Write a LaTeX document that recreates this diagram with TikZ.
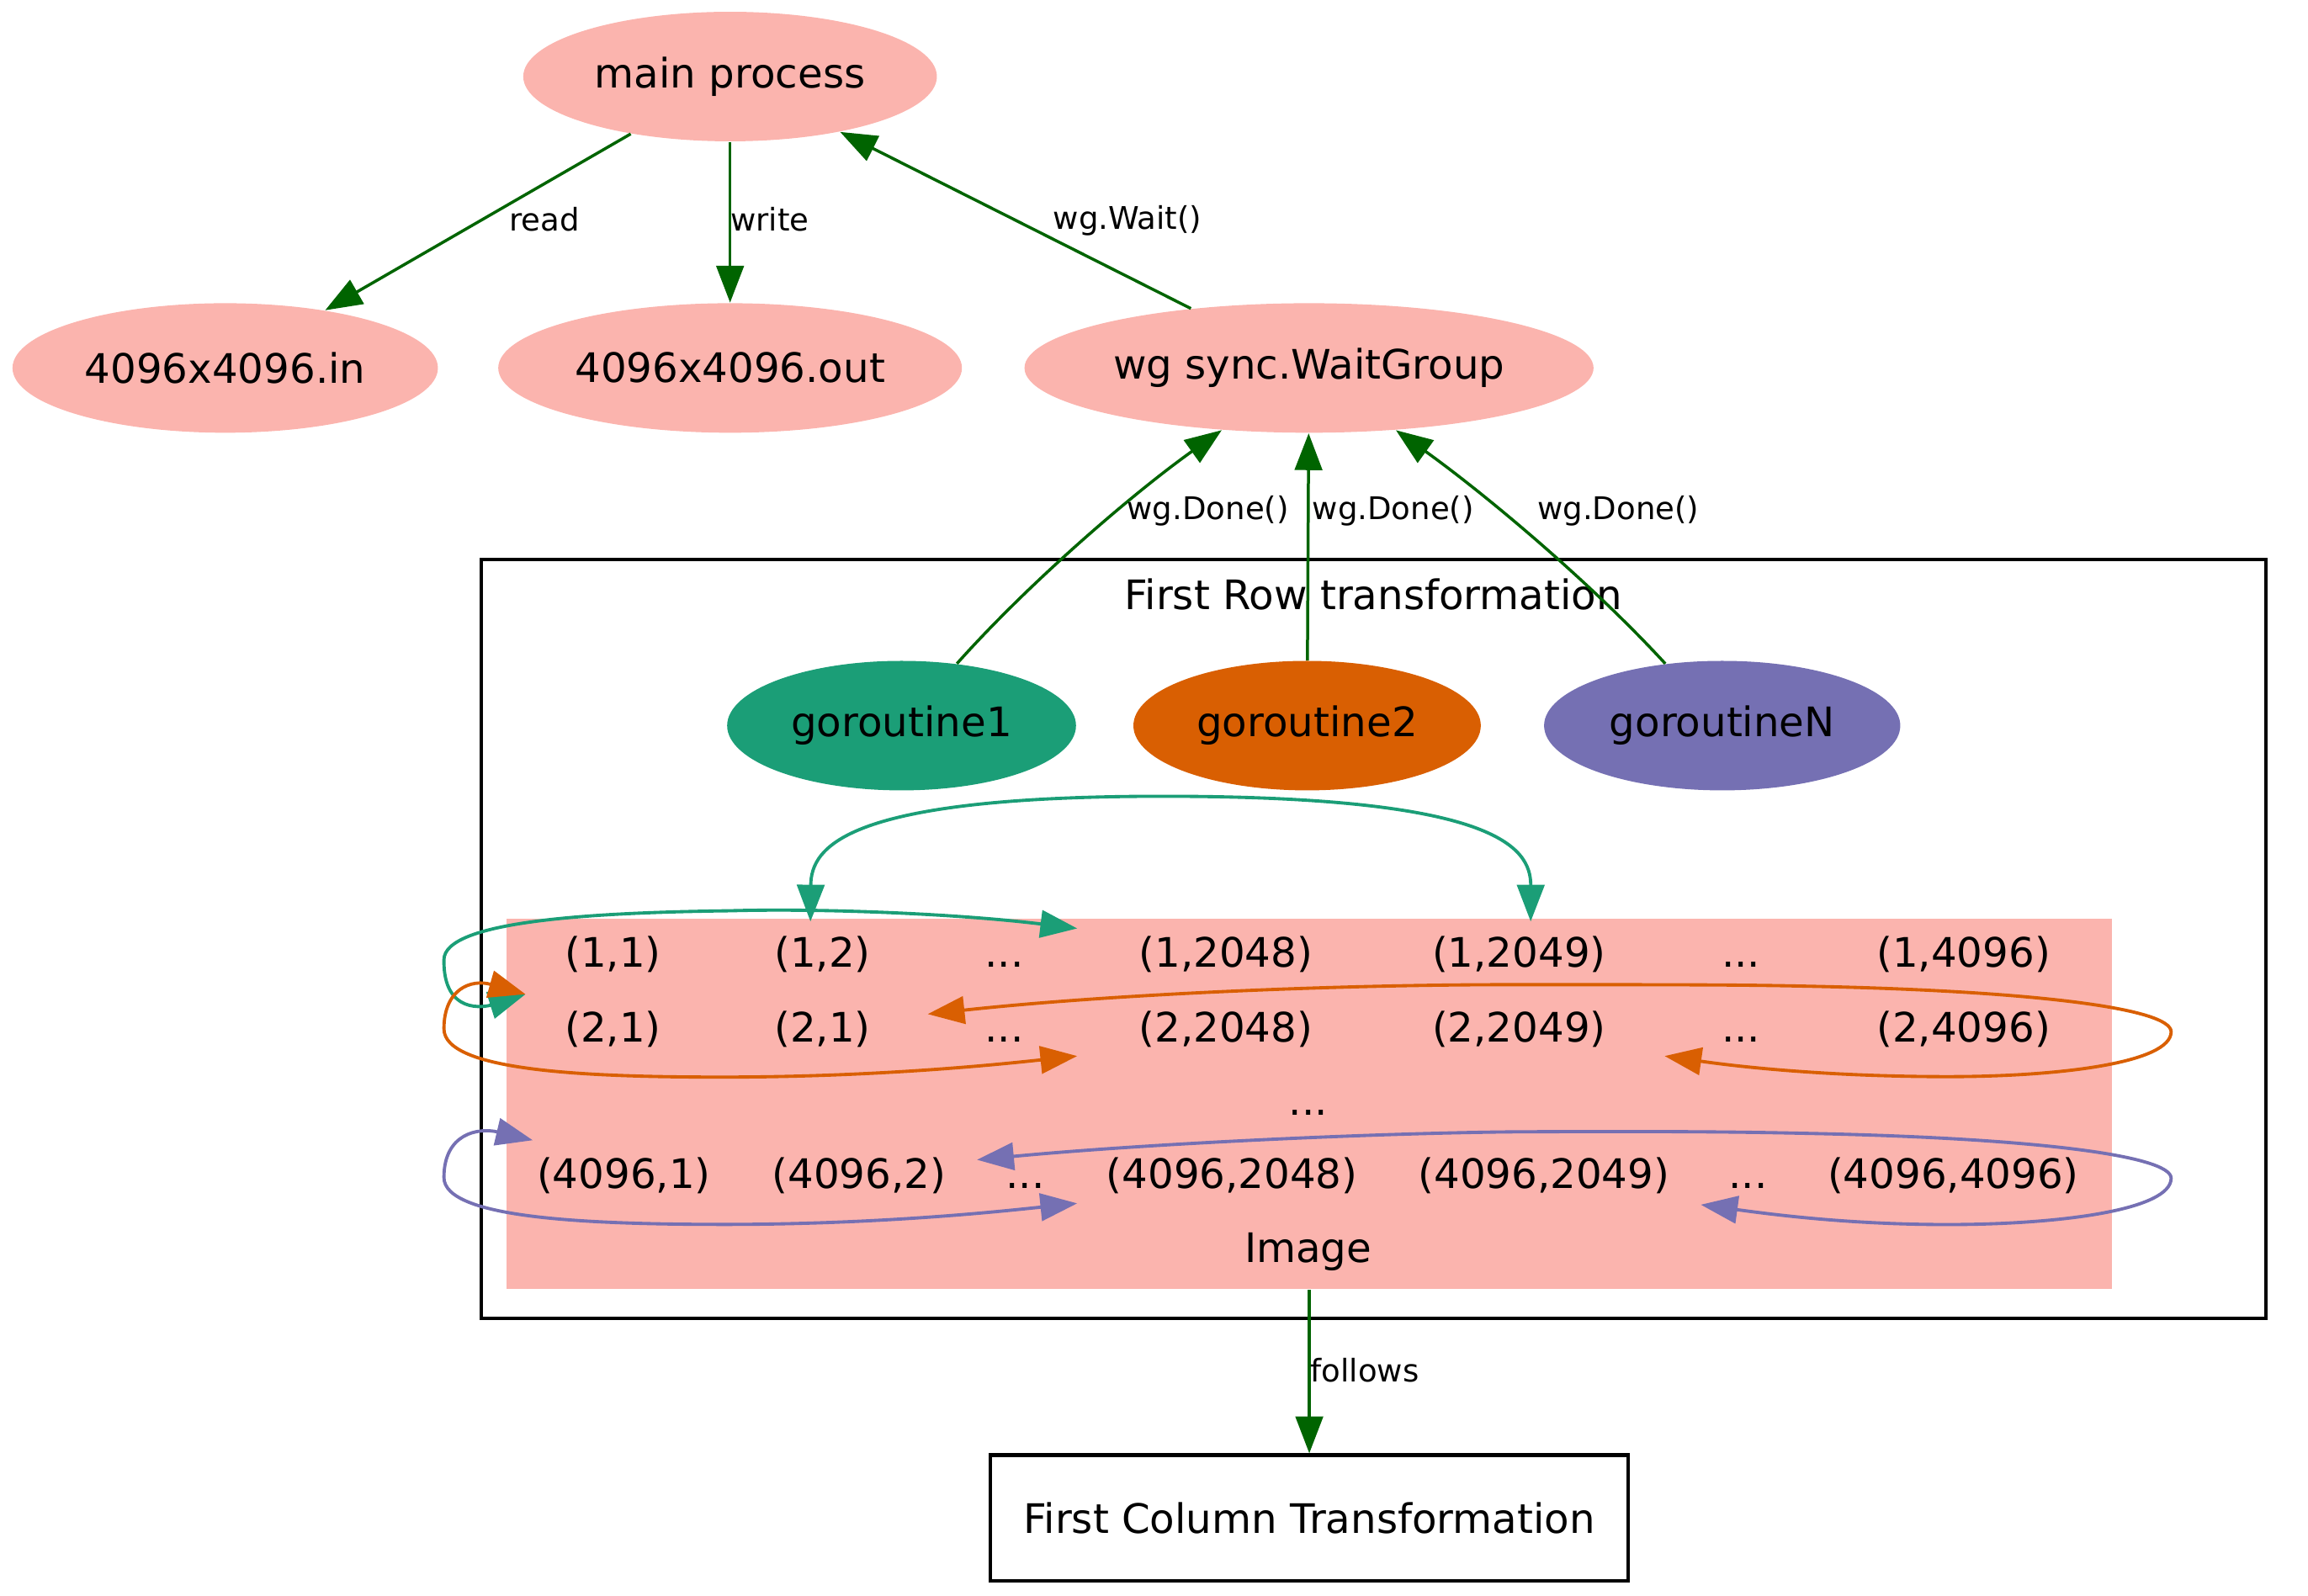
\documentclass[tikz,border=0pt]{standalone}
\usepackage{fontspec}
\setmainfont{DejaVu Sans}
\usetikzlibrary{arrows.meta,shapes.geometric}
\definecolor{pinkfill}{HTML}{FBB4AE}
\definecolor{dkA}{HTML}{1B9E77}
\definecolor{dkB}{HTML}{D95F02}
\definecolor{dkC}{HTML}{7570B3}
\definecolor{dgreen}{HTML}{006400}
\begin{document}
\begin{tikzpicture}[x=0.5pt,y=-0.5pt,
  every node/.style={font=\fontsize{13.8}{16}\selectfont, inner sep=0pt},
  pnode/.style={ellipse, fill=pinkfill, minimum height=44pt},
  gnode/.style={ellipse, minimum height=44pt, minimum width=118.5pt},
  celltxt/.style={text height=10.5pt, text depth=1.8pt},
  lbl/.style={font=\fontsize{10.6}{12}\selectfont},
  gedge/.style={draw=dgreen, line width=1pt, -{Triangle[length=12.5pt,width=9.3pt]}},
  ploop/.style={line width=1.1pt, {Triangle[length=12.5pt,width=9.3pt]}-{Triangle[length=12.5pt,width=9.3pt]}},
  boxline/.style={draw, line width=1.2pt}
]
\useasboundingbox (0,0) rectangle (1568,1084);

% top nodes
\node[pnode, minimum width=140.5pt] (main) at (496,52) {main process};
\node[pnode, minimum width=144.5pt] (fin) at (153,250) {4096x4096.in};
\node[pnode, minimum width=157.5pt] (fout) at (496,250) {4096x4096.out};
\node[pnode, minimum width=193.3pt] (wg) at (889.3,250) {wg sync.WaitGroup};

% cluster
\node[boxline, minimum width=606.25pt, minimum height=257.85pt] (clu) at (933.25,637.85) {};
\node (clulbl) at (933,404) {First Row transformation};

\node[gnode, fill=dkA] (g1) at (612.5,493) {goroutine1};
\node[gnode, fill=dkB, minimum width=118pt] (g2) at (888,493) {goroutine2};
\node[gnode, fill=dkC, minimum width=121pt] (gN) at (1170,493) {goroutineN};

% image table
\node[fill=pinkfill, minimum width=545.5pt, minimum height=126pt] (img) at (889.5,750) {};
\begin{scope}[every node/.append style={celltxt}]
\node (c11) at (416.5,648.5) {(1,1)};
\node (c12) at (558.8,648.5) {(1,2)};
\node (c13) at (682.3,648.5) {...};
\node (c14) at (832.8,648.5) {(1,2048)};
\node (c15) at (1032,648.5) {(1,2049)};
\node (c16) at (1182.8,648.5) {...};
\node (c17) at (1334,648.5) {(1,4096)};
\node (c21) at (416.5,699) {(2,1)};
\node (c22) at (558.8,699) {(2,1)};
\node (c23) at (682.3,699) {...};
\node (c24) at (832.8,699) {(2,2048)};
\node (c25) at (1032,699) {(2,2049)};
\node (c26) at (1182.8,699) {...};
\node (c27) at (1334,699) {(2,4096)};
\node (c31) at (888.7,749) {...};
\node (c41) at (423.8,798.5) {(4096,1)};
\node (c42) at (583.6,798.5) {(4096,2)};
\node (c43) at (696.6,798.5) {...};
\node (c44) at (837,798.5) {(4096,2048)};
\node (c45) at (1048.9,798.5) {(4096,2049)};
\node (c46) at (1187.5,798.5) {...};
\node (c47) at (1327,798.5) {(4096,4096)};
\node (imglbl) at (888.7,849) {Image};
\end{scope}

% bottom box
\node[boxline, minimum width=216.75pt, minimum height=42.7pt] (fct) at (889.5,1031.3) {First Column Transformation};

% green edges
\draw[gedge] (main) -- (fin);
\draw[gedge] (main) -- (fout);
\draw[gedge] (wg) -- (main);
\node[lbl] (lread) at (370,149) {read};
\node[lbl] (lwrite) at (523,149) {write};
\node[lbl] (lwait) at (766,150) {wg.Wait()};

\draw[gedge] (g1) .. controls (700,395) and (770,335) .. (wg);
\draw[gedge] (g2) -- (wg);
\draw[gedge] (gN) .. controls (1080,395) and (1008,335) .. (wg);
\node[lbl] (ld1) at (820.7,347.3) {wg.Done()};
\node[lbl] (ld2) at (946.5,347.3) {wg.Done()};
\node[lbl] (ld3) at (1099.4,347.3) {wg.Done()};

\draw[gedge] (img.south) -- (fct.north);
\node[lbl, anchor=west] (lfollow) at (890,931) {follows};

% port coordinates
\coordinate (pG1) at (550.6,626.1);
\coordinate (pG2) at (1039.9,626.1);
\coordinate (pA) at (731.8,630.8);
\coordinate (pB) at (357,675.5);
\coordinate (pD) at (731.8,717.5);
\coordinate (pE) at (361.9,774.7);
\coordinate (pF) at (731.8,817.6);
\coordinate (pG) at (630.3,689);
\coordinate (pH) at (1130.9,717.5);
\coordinate (pI) at (663.8,788);
\coordinate (pJ) at (1155.5,818.5);

% coloured loops
\draw[ploop, dkA] (pG1) .. controls (551,575) and (575,541) .. (790,541)
   .. controls (1015,541) and (1040,575) .. (pG2);
\draw[ploop, dkA] (pA) .. controls (652,621) and (560,617) .. (496,618.8)
   .. controls (400,620) and (302,626) .. (301.6,652)
   .. controls (301,690) and (330,684) .. (pB);
\draw[ploop, dkB] (pB) .. controls (320,665) and (301.6,672) .. (301.6,699)
   .. controls (301.6,728) and (400,732) .. (496,731.8)
   .. controls (600,731.5) and (680,723) .. (pD);
\draw[ploop, dkB] (pG) .. controls (750,676) and (900,669) .. (1029,669)
   .. controls (1130,669) and (1180,669) .. (1225,670)
   .. controls (1380,673) and (1475,685) .. (1475,701)
   .. controls (1475,722) and (1400,731.5) .. (1323,731.5)
   .. controls (1250,731.5) and (1190,726) .. (pH);
\draw[ploop, dkC] (pE) .. controls (325,766) and (301.6,770) .. (301.6,800)
   .. controls (301.6,828) and (400,832) .. (496,831.9)
   .. controls (600,831.7) and (680,823) .. (pF);
\draw[ploop, dkC] (pI) .. controls (780,777) and (930,770) .. (1029,769)
   .. controls (1130,768.5) and (1180,769) .. (1225,770)
   .. controls (1380,773) and (1475,785) .. (1475,800.5)
   .. controls (1475,822) and (1400,832) .. (1323,832)
   .. controls (1260,832) and (1210,826) .. (pJ);
\end{tikzpicture}
\end{document}
